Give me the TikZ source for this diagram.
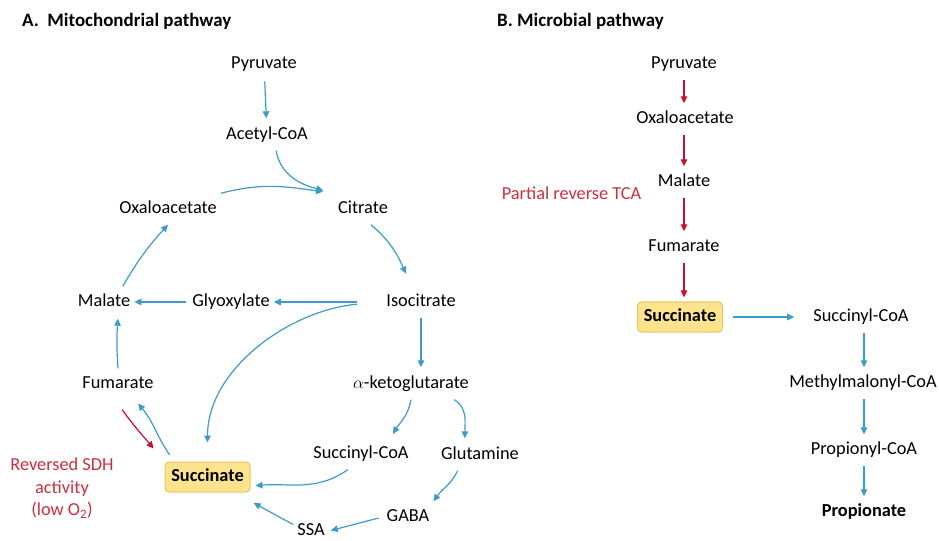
\documentclass[tikz,border=0pt]{standalone}
\usepackage{fontspec}
\setmainfont{Carlito}
\usetikzlibrary{arrows.meta}
\definecolor{bl}{RGB}{60,155,200}
\definecolor{rd}{RGB}{200,16,46}
\definecolor{rdt}{RGB}{205,45,60}
\definecolor{boxfill}{RGB}{253,228,140}
\definecolor{boxdraw}{RGB}{232,195,100}
\begin{document}
\begin{tikzpicture}[x=1bp,y=1bp,
 lbl/.style={font=\fontsize{18.4}{22}\selectfont, text height=13bp, text depth=4bp, inner xsep=4bp, inner ysep=7bp},
 hd/.style={font=\fontsize{19}{22}\selectfont\bfseries, anchor=west, inner sep=0pt},
 sbox/.style={font=\fontsize{18.4}{22}\selectfont\bfseries, rounded corners=4bp, fill=boxfill, draw=boxdraw, line width=1bp, minimum width=85bp, minimum height=30bp, inner sep=0pt, text height=13bp, text depth=4bp},
 redtxt/.style={font=\fontsize{18.4}{23}\selectfont, text=rdt, align=center},
 barr/.style={draw=bl, line width=1.2bp, -{Triangle[length=7bp,width=6.5bp]}},
 rarr/.style={draw=rd, line width=1.2bp, -{Triangle[length=7bp,width=6.5bp]}},
]
\useasboundingbox (0,0) rectangle (939,-541);
% ---- A ----
\node[hd] (tA) at (22,-21) {A.\ \ Mitochondrial pathway};
\node[lbl] (pyrA) at (264,-64) {Pyruvate};
\node[lbl] (acA) at (267,-135) {Acetyl-CoA};
\node[lbl] (oxaA) at (168,-209) {Oxaloacetate};
\node[lbl] (citA) at (363,-209) {Citrate};
\node[lbl] (malA) at (104,-302) {Malate};
\node[lbl] (glyA) at (231,-302) {Glyoxylate};
\node[lbl] (isoA) at (421,-302) {Isocitrate};
\node[lbl] (fumA) at (118,-384) {Fumarate};
\node[lbl] (akgA) at (411,-384) {$\alpha$-ketoglutarate};
\node[lbl] (scoaA) at (361,-454) {Succinyl-CoA};
\node[lbl] (glnA) at (480,-455) {Glutamine};
\node[sbox] (sucA) at (207.5,-477) {Succinate};
\node[lbl] (gabaA) at (408,-517) {GABA};
\node[lbl] (ssaA) at (311,-531) {SSA};
\node[redtxt] (sdh) at (62,-488) {Reversed SDH\\activity\\(low O\textsubscript{2})};

\draw[barr, shorten <=2bp, shorten >=1bp] (pyrA) -- (acA);
\draw[barr, shorten >=11bp] (acA.-60) to[out=-80,in=165] (citA.north west);
\draw[barr, shorten >=11bp] (oxaA.north east) to[out=15,in=172] (citA.north west);
\draw[barr, shorten >=14bp] (citA.-63) to[out=-40,in=115] (isoA.120);
\draw[barr, shorten >=1bp] (isoA.south) -- (isoA.south |- akgA.north);
\draw[barr, shorten <=25bp] (isoA.west) -- (glyA.east);
\draw[barr, shorten <=25bp, shorten >=19bp] (isoA.west) to[out=185,in=90] (sucA.north);
\draw[barr, shorten <=2bp] (glyA.west) -- (malA.east);
\draw[barr, shorten >=1bp] (fumA.north) to[bend left=4] (fumA.north |- malA.south);
\draw[barr] (malA.40) to[bend left=6] (oxaA.south);
\draw[barr, shorten <=8bp, shorten >=5bp] (sucA.155) to[out=125,in=-50] (fumA.-43);
\draw[rarr, shorten <=12bp, shorten >=17bp] (fumA.-100) to[out=-55,in=130] (sucA.north west);
\draw[barr, shorten >=5bp] (scoaA.-130) to[out=-145,in=5] (sucA.-12);
\draw[barr, shorten >=5bp] (akgA.south) to[out=-100,in=60] (scoaA.28);
\draw[barr, shorten >=1bp] (akgA.-20) to[out=-30,in=90] (glnA.134);
\draw[barr] (glnA.-145) to[out=-115,in=55] (gabaA.north east);
\draw[barr, shorten <=4bp, shorten >=2bp] (gabaA.west) -- (ssaA.east);
\draw[barr, shorten >=22bp] (ssaA.160) -- (sucA.-30);

% ---- B ----
\node[hd] (tB) at (497,-21) {B. Microbial pathway};
\node[lbl] (pyrB) at (684,-64) {Pyruvate};
\node[lbl] (oxaB) at (685,-119) {Oxaloacetate};
\node[lbl] (malB) at (684,-182) {Malate};
\node[lbl] (fumB) at (684,-247) {Fumarate};
\node[sbox] (sucB) at (680,-317) {Succinate};
\node[lbl] (scoaB) at (861,-317) {Succinyl-CoA};
\node[lbl] (mmB) at (863,-383) {Methylmalonyl-CoA};
\node[lbl] (pcoaB) at (864,-450) {Propionyl-CoA};
\node[lbl, font=\fontsize{18.4}{22}\selectfont\bfseries] (propB) at (864,-512) {Propionate};
\node[redtxt] (prt) at (571.5,-193) {Partial reverse TCA};

\draw[rarr] (pyrB.south) -- (pyrB.south |- oxaB.north);
\draw[rarr] (pyrB.south |- oxaB.south) -- (pyrB.south |- malB.north);
\draw[rarr] (pyrB.south |- malB.south) -- (pyrB.south |- fumB.north);
\draw[rarr, shorten >=4bp] (pyrB.south |- fumB.south) -- (pyrB.south |- sucB.north);
\draw[barr, shorten <=10bp, shorten >=15bp] (sucB.east) -- (scoaB.west);
\draw[barr] (pcoaB.north |- scoaB.south) -- (pcoaB.north |- mmB.north);
\draw[barr] (pcoaB.north |- mmB.south) -- (pcoaB.north);
\draw[barr] (pcoaB.south) -- (pcoaB.south |- propB.north);
\end{tikzpicture}
\end{document}
